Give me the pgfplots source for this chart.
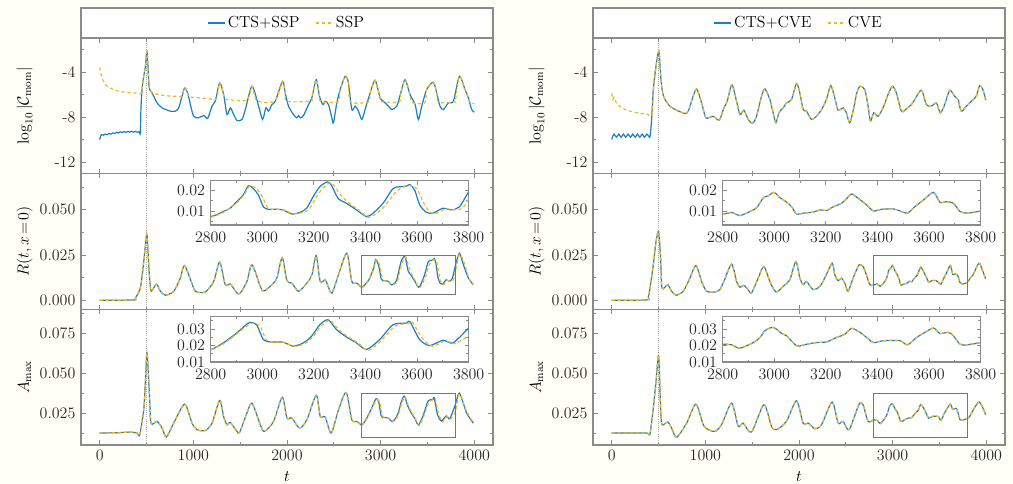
\documentclass[12pt,border=0pt]{standalone}
\usepackage{pgfplots}
\pgfplotsset{compat=1.18}
\usepackage{pgfplotstable}
\definecolor{cblue}{HTML}{1A80C0}
\definecolor{cyel}{HTML}{F0B820}
\definecolor{frm}{HTML}{8A8A8A}
\definecolor{bgc}{HTML}{FFFEF7}

\pgfplotstableread{
t v
0 -10.0
8 -9.7
20 -9.55
40 -9.6
60 -9.5
80 -9.55
100 -9.45
120 -9.5
140 -9.4
160 -9.45
180 -9.35
200 -9.4
220 -9.3
240 -9.36
260 -9.28
280 -9.35
300 -9.26
320 -9.33
340 -9.25
360 -9.33
380 -9.26
400 -9.34
420 -9.28
434 -9.4
441 -7.03
459 -4.97
488 -3.5
505 -2.2
527 -5.27
548 -5.71
577 -6.15
612 -6.74
666 -7.18
754 -7.47
808 -7.47
843 -7.18
879 -6.15
907 -5.41
939 -5.86
968 -6.89
1003 -7.92
1057 -8.06
1110 -7.86
1153 -8.12
1199 -7.03
1234 -6.59
1281 -4.97
1323 -6.0
1359 -7.77
1395 -7.18
1430 -7.77
1466 -8.30
1519 -8.21
1555 -7.33
1626 -5.27
1697 -7.03
1739 -8.21
1775 -7.18
1803 -7.47
1839 -6.89
1875 -6.59
1953 -4.83
1981 -5.86
2016 -7.03
2070 -7.77
2105 -8.06
2123 -7.86
2141 -8.06
2176 -7.86
2230 -6.89
2265 -6.30
2312 -4.68
2347 -6.15
2383 -6.89
2408 -6.59
2443 -6.89
2479 -8.06
2496 -8.5
2532 -6.74
2568 -5.56
2621 -4.39
2656 -4.97
2692 -7.33
2728 -7.03
2763 -7.47
2799 -8.21
2834 -7.33
2888 -5.86
2941 -4.74
2994 -6.30
3030 -6.59
3083 -7.03
3119 -7.33
3172 -7.03
3215 -5.86
3261 -4.68
3314 -6.0
3368 -6.89
3403 -8.21
3439 -7.03
3492 -5.56
3563 -4.92
3599 -5.86
3634 -7.03
3670 -7.33
3723 -6.74
3777 -6.59
3841 -4.39
3901 -5.56
3937 -6.30
3972 -7.33
4000 -7.56
}\LCb

\pgfplotstableread{
t v
0 -3.6
10 -4.0
20 -4.4
40 -4.85
70 -5.2
120 -5.45
200 -5.7
300 -5.82
400 -5.88
445 -5.9
459 -4.97
488 -3.5
505 -2.2
527 -5.27
548 -5.71
570 -5.9
700 -6.1
860 -6.18
879 -6.15
907 -5.41
939 -5.86
955 -6.2
1150 -6.35
1245 -6.38
1281 -4.97
1323 -6.0
1335 -6.4
1570 -6.5
1626 -5.27
1680 -6.55
1870 -6.57
1953 -4.83
1981 -5.86
2000 -6.6
2255 -6.6
2265 -6.30
2312 -4.68
2347 -6.15
2360 -6.62
2545 -6.65
2568 -5.56
2621 -4.39
2656 -4.97
2680 -6.65
2870 -6.65
2888 -5.86
2941 -4.74
2994 -6.30
3010 -6.65
3200 -6.65
3215 -5.86
3261 -4.68
3314 -6.0
3335 -6.7
3470 -6.75
3492 -5.56
3563 -4.92
3599 -5.86
3620 -6.7
3790 -6.65
3800 -6.5
3841 -4.39
3901 -5.56
3937 -6.30
3960 -6.75
4000 -6.8
}\LCy

\pgfplotstableread{
t v
0 -9.98
10 -9.7
25 -9.5
50 -9.78
75 -9.5
100 -9.78
125 -9.5
150 -9.78
175 -9.5
200 -9.78
225 -9.5
250 -9.78
275 -9.5
300 -9.78
325 -9.5
350 -9.78
375 -9.5
400 -9.75
410 -9.68
426 -8.21
444 -5.56
473 -3.5
503 -2.18
526 -4.68
544 -5.86
569 -6.44
622 -7.03
693 -7.39
782 -7.68
817 -7.47
864 -6.30
906 -5.5
960 -6.74
1006 -8.06
1084 -7.92
1148 -8.27
1198 -7.18
1234 -6.59
1283 -5.12
1333 -6.59
1369 -7.77
1411 -7.39
1458 -8.21
1504 -8.56
1546 -7.92
1600 -6.15
1635 -5.5
1689 -6.44
1724 -7.62
1753 -8.5
1788 -7.56
1831 -7.18
1866 -6.74
1920 -6.44
1973 -5.03
2009 -5.86
2044 -7.33
2080 -7.47
2133 -8.21
2186 -7.92
2240 -7.33
2293 -6.44
2339 -5.21
2382 -6.30
2418 -7.39
2471 -7.18
2506 -7.62
2542 -8.5
2585 -7.18
2613 -6.0
2649 -5.27
2702 -5.56
2738 -7.03
2763 -8.36
2798 -7.62
2844 -7.92
2898 -7.18
2951 -6.0
2997 -5.27
3040 -5.86
3093 -7.47
3147 -7.27
3200 -6.89
3236 -6.44
3307 -5.62
3360 -6.89
3413 -7.03
3467 -6.74
3509 -7.62
3556 -6.89
3609 -5.62
3662 -6.15
3698 -6.44
3733 -7.47
3787 -7.03
3840 -6.59
3893 -6.15
3929 -5.21
3964 -5.56
3993 -6.44
4000 -6.5
}\RCb

\pgfplotstableread{
t v
0 -5.9
12 -6.45
25 -6.25
50 -6.75
80 -7.0
120 -7.25
170 -7.4
230 -7.55
300 -7.65
380 -7.75
430 -7.8
444 -5.56
}\RCy

\pgfplotstableread{
t v
0 0
363 0.0002
381 0.0013
434 0.0068
470 0.0214
492 0.0324
505 0.0361
530 0.0141
550 0.005
605 0.009
648 0.005
701 0.0028
790 0.005
861 0.0123
907 0.0192
1003 0.0068
1039 0.0046
1128 0.0046
1217 0.0104
1281 0.0211
1341 0.0086
1395 0.009
1466 0.004
1501 0.004
1572 0.0104
1626 0.0196
1715 0.0077
1750 0.005
1839 0.0086
1892 0.0123
1949 0.0236
1999 0.0108
2052 0.0095
2123 0.005
2212 0.0095
2266 0.0141
2312 0.0247
2355 0.0104
2408 0.0114
2433 0.0086
2479 0.004
2550 0.0141
2639 0.026
2692 0.0104
2746 0.0095
2800 0.0072
2849 0.0097
2875 0.0113
2901 0.0146
2926 0.0179
2946 0.0225
2965 0.0211
2985 0.0179
3004 0.0121
3023 0.0108
3055 0.0108
3081 0.0105
3114 0.0085
3146 0.0093
3172 0.0113
3197 0.017
3223 0.022
3252 0.0244
3268 0.0228
3294 0.0162
3326 0.0138
3365 0.0105
3404 0.0072
3430 0.0089
3468 0.0138
3507 0.0211
3533 0.022
3559 0.0223
3572 0.0231
3591 0.0203
3610 0.013
3636 0.0093
3662 0.0089
3700 0.0113
3733 0.0105
3765 0.0121
3800 0.0195
3841 0.026
3884 0.0196
3937 0.0123
3990 0.0086
}\LRb

\pgfplotstableread{
t v
2800 0.0068
2849 0.0092
2901 0.014
2930 0.018
2950 0.0222
2975 0.0215
3000 0.017
3020 0.0118
3040 0.0108
3081 0.0105
3120 0.0085
3150 0.009
3180 0.0105
3205 0.016
3230 0.0205
3258 0.0238
3275 0.0232
3300 0.0185
3330 0.0145
3370 0.0108
3410 0.0068
3440 0.0085
3475 0.0125
3515 0.019
3540 0.0215
3575 0.0225
3600 0.021
3625 0.014
3650 0.0092
3675 0.0088
3710 0.011
3745 0.0105
3775 0.0112
3800 0.016
3841 0.0255
3890 0.021
3945 0.0118
3990 0.0085
}\LRy

\pgfplotstableread{
t v
0 0.0125
200 0.0127
328 0.0131
399 0.0125
427 0.0114
470 0.0271
488 0.045
505 0.0625
530 0.0375
548 0.0187
612 0.0198
666 0.0156
712 0.0100
790 0.0187
907 0.0306
986 0.0187
1039 0.0146
1128 0.0141
1199 0.0187
1281 0.0329
1323 0.0229
1359 0.0177
1395 0.0191
1466 0.0135
1494 0.0129
1572 0.025
1626 0.0312
1715 0.0177
1757 0.0135
1857 0.0198
1949 0.035
1999 0.0219
2052 0.0219
2134 0.0156
2212 0.0208
2312 0.0362
2355 0.0229
2408 0.0225
2472 0.0125
2550 0.0271
2632 0.0379
2692 0.0208
2746 0.0198
2800 0.0176
2849 0.0216
2901 0.0276
2933 0.032
2952 0.034
2978 0.0326
3004 0.0236
3030 0.0222
3081 0.022
3120 0.0196
3159 0.0216
3191 0.0256
3223 0.0326
3255 0.0356
3288 0.0296
3326 0.0252
3365 0.0216
3404 0.0176
3455 0.0236
3507 0.0326
3559 0.0336
3572 0.0346
3610 0.0236
3649 0.02
3701 0.0232
3739 0.0216
3800 0.0306
3841 0.0375
3919 0.025
3990 0.0187
}\LAb

\pgfplotstableread{
t v
2800 0.0172
2849 0.021
2901 0.027
2940 0.0318
2960 0.0336
2990 0.032
3015 0.0235
3040 0.022
3081 0.022
3125 0.0195
3165 0.0212
3195 0.025
3230 0.032
3262 0.0352
3295 0.0298
3330 0.0255
3370 0.0216
3410 0.017
3460 0.0228
3515 0.0318
3565 0.0334
3582 0.0342
3620 0.0245
3660 0.0195
3710 0.0228
3745 0.0212
3800 0.0262
3841 0.037
3919 0.026
3990 0.019
}\LAy

\pgfplotstableread{
t v
0 0
373 0.0002
390 0.0017
409 0.0068
444 0.0196
473 0.0324
501 0.0379
522 0.0233
537 0.0068
597 0.0086
640 0.005
686 0.0028
764 0.005
835 0.0123
899 0.0192
960 0.0104
1013 0.005
1102 0.0046
1155 0.0059
1198 0.0104
1280 0.02
1333 0.0104
1369 0.0072
1411 0.0083
1457 0.0059
1493 0.004
1564 0.0123
1625 0.0187
1689 0.0104
1753 0.0046
1831 0.0077
1902 0.0114
1966 0.0214
2009 0.0123
2044 0.0086
2080 0.0104
2151 0.0059
2222 0.0077
2275 0.0123
2354 0.0205
2382 0.0141
2418 0.0108
2453 0.0123
2489 0.0095
2524 0.005
2578 0.0123
2642 0.0196
2684 0.0187
2720 0.0141
2756 0.0086
2800 0.0084
2835 0.0092
2867 0.0077
2906 0.0097
2932 0.0116
2958 0.0166
2977 0.0175
2999 0.0192
3022 0.0166
3042 0.0149
3067 0.0121
3087 0.0084
3113 0.0089
3151 0.0094
3177 0.0105
3203 0.0102
3229 0.0121
3261 0.0138
3281 0.0162
3300 0.0184
3326 0.0162
3358 0.013
3384 0.01
3416 0.0108
3461 0.011
3487 0.01
3516 0.0089
3545 0.0121
3578 0.0154
3617 0.0192
3642 0.0143
3668 0.0146
3694 0.0138
3720 0.0097
3746 0.0089
3800 0.01
3825 0.012
3858 0.0141
3922 0.0205
3964 0.0159
3993 0.0119
}\RRb

\pgfplotstableread{
t v
0 0.0125
350 0.0125
390 0.0122
409 0.0119
444 0.0281
473 0.0448
501 0.061
522 0.0281
537 0.0177
597 0.0194
640 0.0156
693 0.0098
800 0.0187
899 0.0306
977 0.0177
1031 0.0146
1102 0.0135
1173 0.0177
1280 0.0312
1351 0.0167
1404 0.0187
1493 0.0131
1625 0.0302
1706 0.0167
1760 0.0146
1866 0.0198
1973 0.0327
2044 0.0187
2098 0.0187
2169 0.0152
2240 0.0177
2354 0.0319
2418 0.0187
2471 0.0198
2535 0.0146
2642 0.0306
2684 0.0302
2738 0.0198
2800 0.0208
2835 0.0204
2867 0.0184
2919 0.0218
2945 0.0249
2964 0.029
2996 0.031
3029 0.0273
3048 0.0259
3087 0.0198
3126 0.0208
3164 0.0218
3203 0.0222
3242 0.0249
3274 0.0269
3300 0.0304
3332 0.028
3358 0.0249
3384 0.0218
3423 0.0229
3487 0.0229
3516 0.0204
3552 0.0249
3584 0.028
3617 0.0306
3642 0.0273
3675 0.028
3694 0.0259
3720 0.0208
3746 0.0204
3800 0.0218
3822 0.0229
3922 0.0319
3993 0.024
}\RAb

\pgfplotsset{
  base/.style={scale only axis, width=309pt, height=101.75pt, anchor=south west,
    axis background/.style={fill=white},
    axis line style={frm, line width=0.8pt},
    every tick/.style={frm, line width=0.6pt},
    major tick length=3.5pt, minor tick length=2pt, tick align=inside,
    ticklabel style={color=black!85, font=\normalsize},
    label style={font=\normalsize},
    scaled ticks=false,
    /pgf/number format/set thousands separator={},
    xmin=-200, xmax=4200,
    xtick={0,1000,2000,3000,4000}, minor xtick={500,1500,2500,3500},
    ylabel style={at={(axis description cs:-0.137,0.5)}, anchor=center}},
  pan1/.style={base, ymin=-13, ymax=-1, ytick={-12,-8,-4}, yticklabels={-12,-8,-4},
    minor ytick={-10,-6,-2}, xticklabels={},
    ylabel={$\log_{10}|\mathcal{C}_{\mathrm{mom}}|$},
    legend style={at={(0.5,1)}, anchor=center, yshift=11.25pt, draw=none, fill=none,
      legend columns=2, font=\normalsize, /tikz/every even column/.style={column sep=10pt}},
    legend image code/.code={\draw[##1] (0pt,0pt) -- (12.5pt,0pt);}},
  pan2/.style={base, ymin=-0.005, ymax=0.070, ytick={0,0.025,0.05},
    minor ytick={0.0125,0.0375,0.0625}, xticklabels={},
    yticklabel style={/pgf/number format/fixed, /pgf/number format/fixed zerofill, /pgf/number format/precision=3},
    ylabel={$R(t,x\!=\!0)$}},
  pan3/.style={base, ymin=0.005, ymax=0.09, ytick={0.025,0.05,0.075},
    minor ytick={0.0125,0.0375,0.0625,0.0875},
    yticklabel style={/pgf/number format/fixed, /pgf/number format/fixed zerofill, /pgf/number format/precision=3},
    ylabel={$A_{\max}$}, xlabel={$t$}},
  ins/.style={scale only axis, width=193.5pt, anchor=south west,
    axis background/.style={fill=white},
    axis line style={frm, line width=0.8pt},
    every tick/.style={frm, line width=0.6pt},
    major tick length=3pt, minor tick length=1.8pt, tick align=inside,
    ticklabel style={color=black!85, font=\normalsize},
    scaled ticks=false,
    /pgf/number format/set thousands separator={},
    xmin=2800, xmax=3800, xtick={2800,3000,...,3800}, minor xtick={2900,3100,...,3700},
    yticklabel style={/pgf/number format/fixed, /pgf/number format/fixed zerofill, /pgf/number format/precision=2},
    xticklabel style={yshift=-1pt}},
  insR/.style={ins, height=33.2pt, ymin=0.003, ymax=0.025, ytick={0.01,0.02}, minor ytick={0.005,0.015}},
  insA/.style={ins, height=34pt, ymin=0.01, ymax=0.0375, ytick={0.01,0.02,0.03}, minor ytick={0.015,0.025,0.035}},
  pb/.style={cblue, line width=0.9pt, smooth, tension=0.45},
  py/.style={cyel, line width=0.9pt, dash pattern=on 2.5pt off 2pt, smooth, tension=0.45},
  pd/.style={frm!70, densely dotted, line width=0.6pt, forget plot},
}

\begin{document}
\begin{tikzpicture}
\useasboundingbox (0,0) rectangle (759.75pt,363pt);
\fill[bgc] (0,0) rectangle (759.75pt,363pt);

% ===== LEFT COLUMN =====
\fill[white] (60.75pt,334.5pt) rectangle (369.75pt,357pt);
\begin{axis}[pan1, at={(60.75pt,232.75pt)}]
\addplot[pd] coordinates {(500,-13) (500,-1)};
\addplot[pb] table[x=t,y=v] {\LCb};
\addplot[py] table[x=t,y=v] {\LCy};
\legend{CTS+SSP,SSP}
\end{axis}
\draw[frm, line width=0.8pt] (60.75pt,334.5pt) rectangle (369.75pt,357pt);

\begin{axis}[pan2, at={(60.75pt,131pt)}]
\addplot[pd] coordinates {(500,-0.005) (500,0.07)};
\addplot[pb] table[x=t,y=v] {\LRb};
\addplot[py, restrict x to domain=0:2800] table[x=t,y=v] {\LRb};
\addplot[py] table[x=t,y=v] {\LRy};
\draw[frm!85!black, line width=0.7pt] (axis cs:2800,0.003) rectangle (axis cs:3800,0.025);
\end{axis}
\begin{axis}[insR, at={(158pt,194.25pt)}]
\addplot[pb] table[x=t,y=v] {\LRb};
\addplot[py] table[x=t,y=v] {\LRy};
\end{axis}

\begin{axis}[pan3, at={(60.75pt,29.25pt)}]
\addplot[pd] coordinates {(500,0.005) (500,0.09)};
\addplot[pb] table[x=t,y=v] {\LAb};
\addplot[py, restrict x to domain=0:2800] table[x=t,y=v] {\LAb};
\addplot[py] table[x=t,y=v] {\LAy};
\draw[frm!85!black, line width=0.7pt] (axis cs:2800,0.01) rectangle (axis cs:3800,0.0375);
\end{axis}
\begin{axis}[insA, at={(158pt,91.5pt)}]
\addplot[pb] table[x=t,y=v] {\LAb};
\addplot[py] table[x=t,y=v] {\LAy};
\end{axis}

% ===== RIGHT COLUMN =====
\fill[white] (444.75pt,334.5pt) rectangle (753.75pt,357pt);
\begin{axis}[pan1, at={(444.75pt,232.75pt)}]
\addplot[pd] coordinates {(500,-13) (500,-1)};
\addplot[pb] table[x=t,y=v] {\RCb};
\addplot[py] table[x=t,y=v] {\RCy};
\addplot[py, restrict x to domain=444:4200, forget plot] table[x=t,y=v] {\RCb};
\legend{CTS+CVE,CVE}
\end{axis}
\draw[frm, line width=0.8pt] (444.75pt,334.5pt) rectangle (753.75pt,357pt);

\begin{axis}[pan2, at={(444.75pt,131pt)}]
\addplot[pd] coordinates {(500,-0.005) (500,0.07)};
\addplot[pb] table[x=t,y=v] {\RRb};
\addplot[py] table[x=t,y=v] {\RRb};
\draw[frm!85!black, line width=0.7pt] (axis cs:2800,0.003) rectangle (axis cs:3800,0.025);
\end{axis}
\begin{axis}[insR, at={(542pt,194.25pt)}]
\addplot[pb] table[x=t,y=v] {\RRb};
\addplot[py] table[x=t,y=v] {\RRb};
\end{axis}

\begin{axis}[pan3, at={(444.75pt,29.25pt)}]
\addplot[pd] coordinates {(500,0.005) (500,0.09)};
\addplot[pb] table[x=t,y=v] {\RAb};
\addplot[py] table[x=t,y=v] {\RAb};
\draw[frm!85!black, line width=0.7pt] (axis cs:2800,0.01) rectangle (axis cs:3800,0.0375);
\end{axis}
\begin{axis}[insA, at={(542pt,91.5pt)}]
\addplot[pb] table[x=t,y=v] {\RAb};
\addplot[py] table[x=t,y=v] {\RAb};
\end{axis}
\end{tikzpicture}
\end{document}
